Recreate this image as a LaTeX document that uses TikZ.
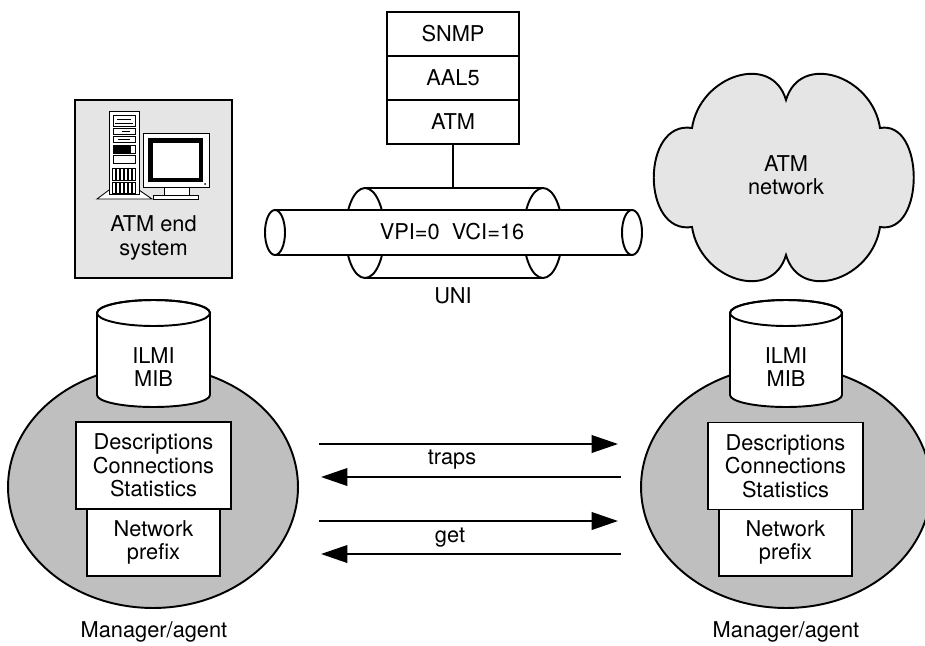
\documentclass[tikz,border=0pt]{standalone}
\usepackage{fontspec}
\setmainfont{TeX Gyre Heros}
\usetikzlibrary{arrows.meta,shapes.geometric}

\begin{document}
\begin{tikzpicture}[x=0.02cm, y=-0.02cm, line width=1.1pt,
    every node/.style={font=\fontsize{12.4}{13.4}\selectfont, align=center},
    layer/.style={draw, fill=white, minimum width=2.64cm, minimum height=0.88cm, inner sep=0pt},
    agent/.style={draw, ellipse, fill=gray!50, minimum width=5.8cm, minimum height=4.84cm, inner sep=0pt},
    mibbox/.style={draw, fill=white, minimum width=3.1cm, minimum height=1.74cm, inner sep=0pt},
    pfxbox/.style={draw, fill=white, minimum width=2.66cm, minimum height=1.34cm, inner sep=0pt},
    msg/.style={-{Triangle[length=15pt, width=10pt]}}]
    \clip (0,0) rectangle (925,645);

    % Protocol stack
    \node[layer] (snmp) at (453,34) {SNMP};
    \node[layer] (aal) at (453,78) {AAL5};
    \node[layer] (atm) at (453,122) {ATM};
    \coordinate (pipetop) at (453,188);
    \draw (atm.south) -- (pipetop);

    % UNI pipe, outer tube
    \draw (365,188) -- (543,188) (365,278) -- (543,278);
    \draw (365,233) ellipse[x radius=19.5, y radius=45];
    \draw (543,233) ellipse[x radius=19.5, y radius=45];
    % inner tube
    \fill[white] (275,210) rectangle (632,255);
    \draw (275,210) -- (632,210) (275,255) -- (632,255);
    \draw (275,232.5) ellipse[x radius=10, y radius=22.5];
    \filldraw[fill=white] (632,232.5) ellipse[x radius=10, y radius=22.5];
    \node (vc) at (452,232) {VPI=0\ \ VCI=16};
    \node (uni) at (453,296) {UNI};

    % End system
    \node[draw, fill=gray!20, minimum width=3.14cm, minimum height=3.56cm, inner sep=0pt] (es) at (153.5,189) {};
    \node (estxt) at (153.5,238) {ATM end\\system};
    % tower
    \begin{scope}[line width=0.5pt]
        \filldraw[fill=white] (97,199) -- (109,190) -- (139,190) -- (152,199) -- cycle;
        \filldraw[fill=white] (109,111) rectangle (139,194);
        \draw (113,115) rectangle (135,126);
        \draw (117,119) -- (131,119) (115,123) -- (133,123);
        \draw (113,128) rectangle (135,134);
        \draw (122,131) -- (130,131);
        \draw (113,136) rectangle (135,142);
        \draw (118,139) -- (130,139);
        \fill (113,145) rectangle (131,153);
        \draw (113,145) rectangle (135,153);
        \draw (113,155) rectangle (135,163);
        \foreach \gx in {112,116,...,132} {
            \draw (\gx,168) rectangle (\gx+3,180);
            \draw (\gx,182) rectangle (\gx+3,193);
        }
        % monitor
        \filldraw[fill=white] (143,133) rectangle (209,187);
        \fill (148,138) rectangle (203,182);
        \fill[white] (153,143) rectangle (199,178);
        \fill (205,184) circle (1);
        \filldraw[fill=white] (164,187) rectangle (189,195);
        \filldraw[fill=white] (153,195) rectangle (198,199);
    \end{scope}

    % ATM network cloud
    \filldraw[fill=gray!20] (692,128) .. controls (700,75) and (772,52) .. (786,100)
        .. controls (800,52) and (872,75) .. (880,128)
        .. controls (925,120) and (925,235) .. (880,227)
        .. controls (872,280) and (800,303) .. (786,255)
        .. controls (772,303) and (700,280) .. (692,227)
        .. controls (641,235) and (641,120) .. (692,128) -- cycle;
    \node (net) at (786,175) {ATM\\network};

    % Left manager/agent
    \node[agent] (agentL) at (153,487) {};
    \filldraw[fill=white] (97,313) -- (97,395) arc[start angle=180, end angle=0, x radius=56.5, y radius=12]
        -- (210,313) arc[start angle=0, end angle=-180, x radius=56.5, y radius=13] -- cycle;
    \draw (153.5,313) ellipse[x radius=56.5, y radius=13];
    \node (mibL) at (153.5,367) {ILMI\\MIB};
    \node[pfxbox] (pfxL) at (153.5,542.5) {Network\\prefix};
    \node[mibbox] (descL) at (153.5,465.5) {Descriptions\\Connections\\Statistics};
    \node (magL) at (154,632) {Manager/agent};

    % Right manager/agent
    \node[agent] (agentR) at (786,487) {};
    \filldraw[fill=white] (730,313) -- (730,395) arc[start angle=180, end angle=0, x radius=56, y radius=12]
        -- (842,313) arc[start angle=0, end angle=-180, x radius=56, y radius=13] -- cycle;
    \draw (786,313) ellipse[x radius=56, y radius=13];
    \node (mibR) at (786,367) {ILMI\\MIB};
    \node[pfxbox] (pfxR) at (785.5,542.5) {Network\\prefix};
    \node[mibbox] (descR) at (785.5,466) {Descriptions\\Connections\\Statistics};
    \node (magR) at (786,632) {Manager/agent};

    % Messages
    \coordinate (p1l) at (319,444);
    \coordinate (p1r) at (618,444);
    \coordinate (p2l) at (321,477);
    \coordinate (p2r) at (621,477);
    \coordinate (p3l) at (319,521);
    \coordinate (p3r) at (618,521);
    \coordinate (p4l) at (321,554);
    \coordinate (p4r) at (621,554);
    \draw[msg] (p1l) -- (p1r);
    \draw[msg] (p2r) -- (p2l);
    \draw[msg] (p3l) -- (p3r);
    \draw[msg] (p4r) -- (p4l);
    \node (traps) at (452,460) {traps};
    \node (get) at (450,538) {get};
\end{tikzpicture}
\end{document}
